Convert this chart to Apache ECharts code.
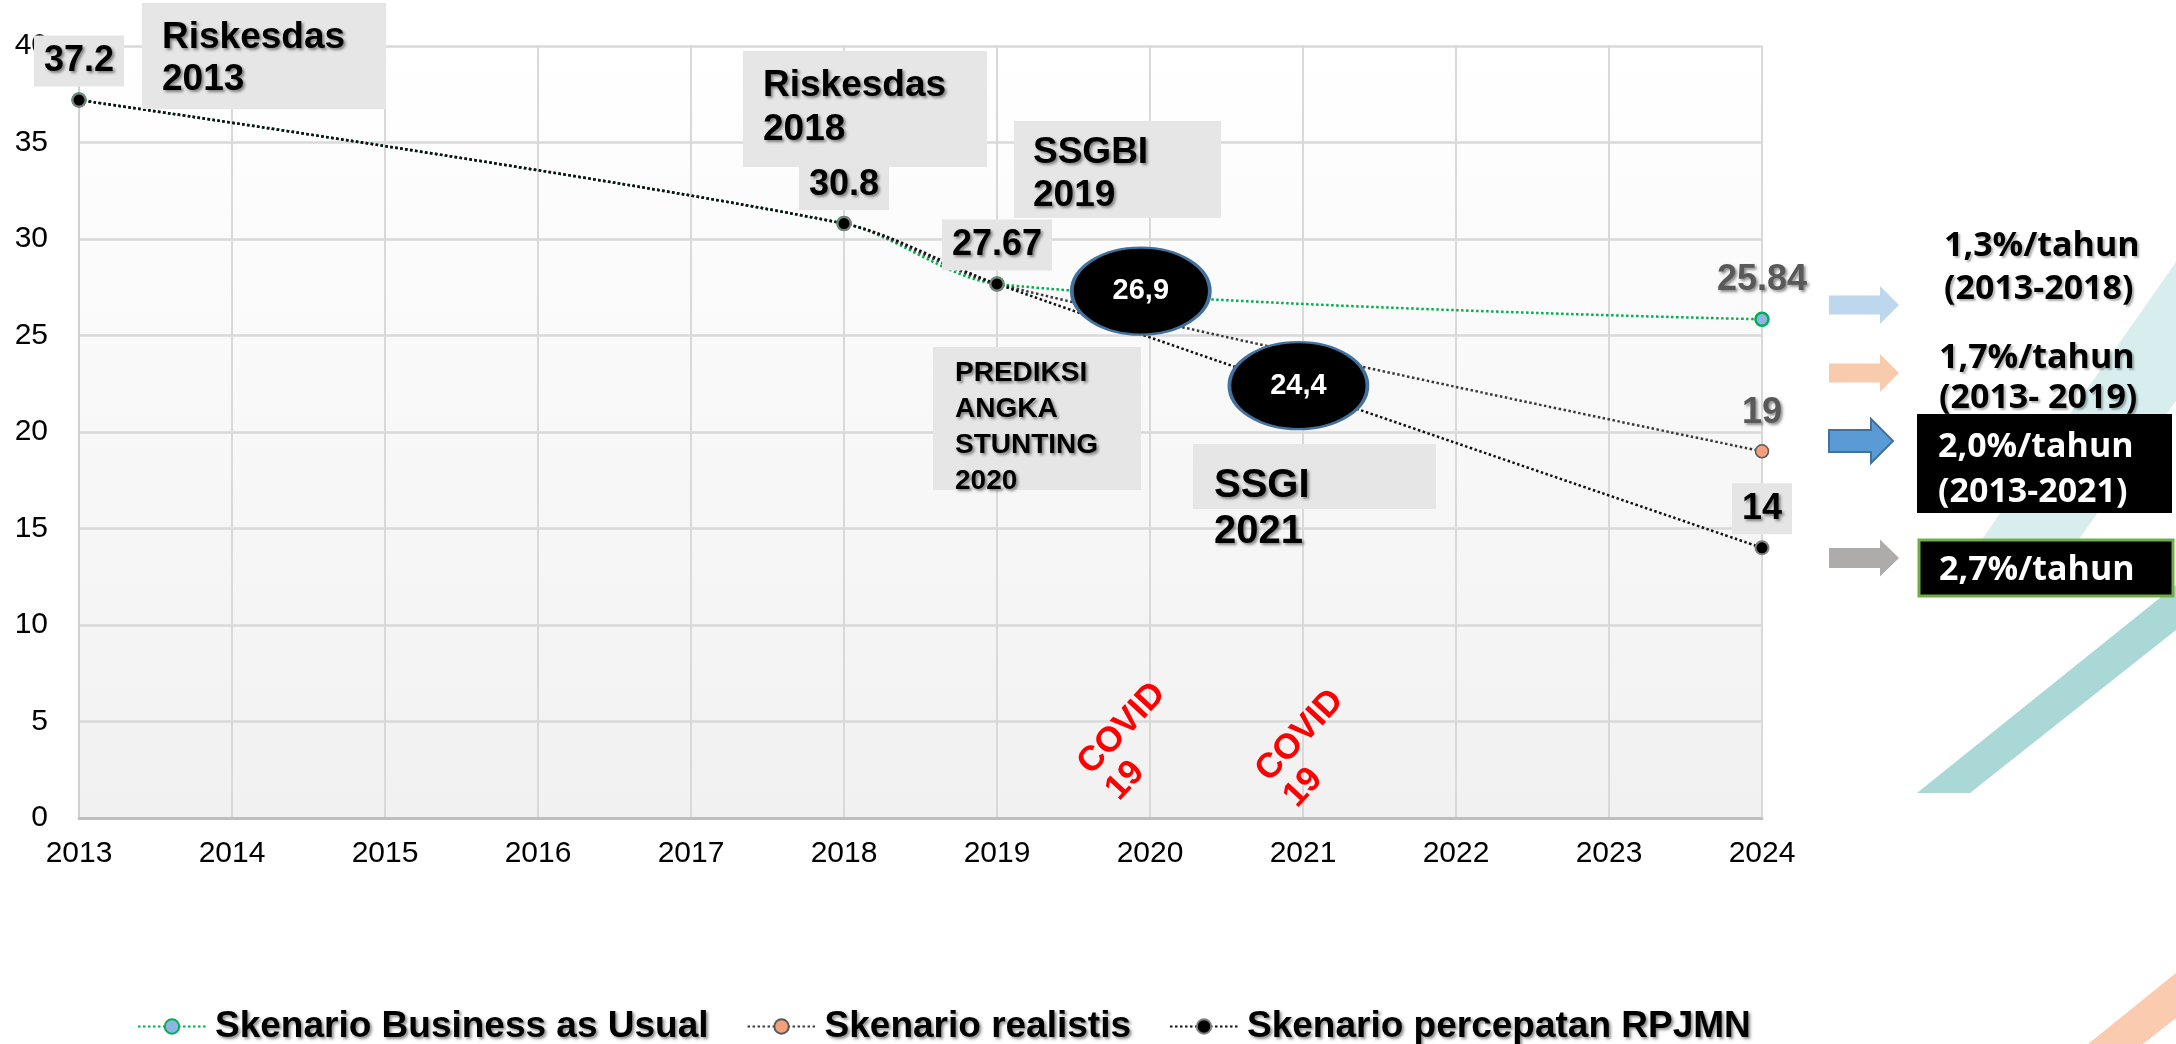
<!DOCTYPE html>
<html>
<head>
<meta charset="utf-8">
<title>Prediksi angka stunting</title>
<script src="https://cdn.jsdelivr.net/npm/echarts@6/dist/echarts.min.js"></script>
<style>
  html, body { margin: 0; padding: 0; background: #fff; }
  #chart { width: 2176px; height: 1044px; }
</style>
</head>
<body>
<div id="chart"></div>
<script>
const years = [2013, 2018, 2019, 2024]
const bauValues = [37.2, 30.8, 27.67, 25.84]
const realistisValues = [37.2, 30.8, 27.67, 19]
const percepatanValues = [37.2, 30.8, 27.67, 14]
const seriesNames = ['Skenario Business as Usual', 'Skenario realistis', 'Skenario percepatan RPJMN']

// survey callouts (black ellipses), placed where they sit on the slide
const calloutYears = [2019.94, 2020.97]
const calloutLevels = [27.3, 22.4]
const calloutTexts = ['26,9', '24,4']

const yearMin = 2013
const yearMax = 2024
const valueMax = 40
const valueStep = 5

const ARIAL = '"Liberation Sans", Arial, sans-serif'
const NOTE_FONT = '"Open Sans", "Noto Sans", sans-serif'

const shadow = {
  textShadowColor: 'rgba(0,0,0,0.45)',
  textShadowBlur: 3,
  textShadowOffsetX: 2,
  textShadowOffsetY: 2
}

const boxLabel = {
  show: true,
  position: 'top',
  distance: 6,
  backgroundColor: '#e5e5e5',
  color: '#000',
  fontFamily: ARIAL,
  fontSize: 36,
  fontWeight: 'bold',
  lineHeight: 36,
  padding: [8, 10, 7, 10],
  ...shadow
}
const greyLabel = { ...boxLabel, backgroundColor: 'transparent', color: '#595959' }

function points(values, labels) {
  return years.map((year, i) => labels[i] ? { value: [year, values[i]], label: labels[i] } : [year, values[i]])
}

function lineSeries(name, values, labels, lineColor, fill, border, borderWidth) {
  return {
    name,
    type: 'line',
    data: points(values, labels),
    smooth: 0.3,
    symbol: 'circle',
    symbolSize: 13,
    showAllSymbol: true,
    lineStyle: { color: lineColor, width: 2.5, type: [2.5, 2.5] },
    itemStyle: { color: fill, borderColor: border, borderWidth },
    label: { show: false }
  }
}

function boxedText(x, y, w, h, text, tx, ty, size, lh) {
  return [
    { type: 'rect', shape: { x, y, width: w, height: h }, style: { fill: '#e6e6e6' }, z: 5, silent: true },
    {
      type: 'text', x: tx, y: ty, z: 6, silent: true,
      style: { text, font: `bold ${size}px ${ARIAL}`, fill: '#000', lineHeight: lh, textAlign: 'left', textVerticalAlign: 'top', ...shadow }
    }
  ]
}

function covid(x, y) {
  return {
    type: 'text', x, y, rotation: 47 * Math.PI / 180, z: 6, silent: true,
    style: { text: 'COVID\n19', font: `bold 35px ${ARIAL}`, fill: '#ff0000', lineHeight: 38, textAlign: 'left', textVerticalAlign: 'middle' }
  }
}

function arrow(x0, neck, tip, cy, body, head, fill, stroke) {
  return {
    type: 'polygon', z: 5, silent: true,
    shape: { points: [[x0, cy - body], [neck, cy - body], [neck, cy - head], [tip, cy], [neck, cy + head], [neck, cy + body], [x0, cy + body]] },
    style: { fill, stroke: stroke || null, lineWidth: stroke ? 2 : 0 }
  }
}

function note(x, y, text, lh, color, align) {
  return {
    type: 'text', x, y, z: 8, silent: true,
    style: {
      text, font: `bold 34px ${NOTE_FONT}`, fill: color, lineHeight: lh, textAlign: 'left', textVerticalAlign: align || 'top',
      textShadowColor: color === '#000' ? 'rgba(0,0,0,0.3)' : 'transparent', textShadowBlur: 2, textShadowOffsetX: 2, textShadowOffsetY: 2
    }
  }
}

const chart = echarts.init(document.getElementById('chart'))

chart.setOption({
  animation: false,
  backgroundColor: '#fff',
  grid: {
    left: 79, right: 414, top: 46, bottom: 226,
    show: true,
    borderWidth: 0,
    backgroundColor: new echarts.graphic.LinearGradient(0, 0, 0, 1, [
      { offset: 0, color: '#ffffff' },
      { offset: 1, color: '#f1f1f1' }
    ])
  },
  legend: {
    data: seriesNames,
    left: 132,
    top: 1003,
    itemWidth: 68,
    itemHeight: 18,
    itemGap: 38,
    textStyle: { color: '#000', fontFamily: ARIAL, fontSize: 37, fontWeight: 'bold', padding: [0, 0, 0, 4], ...shadow }
  },
  xAxis: {
    type: 'value',
    min: yearMin,
    max: yearMax,
    interval: 1,
    axisLine: { show: true, lineStyle: { color: '#bfbfbf', width: 3 } },
    axisTick: { show: false },
    axisLabel: { formatter: (v) => String(v), color: '#000', fontFamily: ARIAL, fontSize: 30, margin: 21 },
    splitLine: { show: true, lineStyle: { color: '#d9d9d9', width: 2 } }
  },
  yAxis: {
    type: 'value',
    min: 0,
    max: valueMax,
    interval: valueStep,
    axisLine: { show: true, lineStyle: { color: '#d0d0d0', width: 2 } },
    axisTick: { show: false },
    axisLabel: { color: '#000', fontFamily: ARIAL, fontSize: 30, margin: 31 },
    splitLine: { lineStyle: { color: '#d9d9d9', width: 2.5 } }
  },
  series: [
    lineSeries(seriesNames[0], bauValues, [null, null, null, greyLabel], '#00b050', '#8eb4e3', '#00b050', 2.5),
    lineSeries(seriesNames[1], realistisValues, [null, null, null, greyLabel], '#3a3a3a', '#f4a07c', '#595959', 1.5),
    lineSeries(seriesNames[2], percepatanValues, [boxLabel, boxLabel, boxLabel, boxLabel], '#111', '#000', '#808080', 2),
    {
      type: 'scatter',
      silent: true,
      z: 4,
      data: calloutYears.map((year, i) => ({ value: [year, calloutLevels[i]], name: calloutTexts[i] })),
      symbol: 'circle',
      symbolSize: [138, 87],
      itemStyle: { color: '#000', opacity: 1, borderColor: '#41719c', borderWidth: 3 },
      label: { show: true, position: 'inside', formatter: (p) => p.name, color: '#fff', fontFamily: ARIAL, fontSize: 29, fontWeight: 'bold' }
    }
  ],
  graphic: [
    // slide decoration
    { type: 'polygon', z: 1, silent: true, shape: { points: [[1978, 545], [2075, 545], [2176, 401], [2176, 262]] }, style: { fill: '#d8eeee' } },
    { type: 'polygon', z: 1, silent: true, shape: { points: [[1917, 793], [1970, 793], [2176, 630], [2176, 585]] }, style: { fill: '#a9d8d6' } },
    { type: 'polygon', z: 1, silent: true, shape: { points: [[2088, 1044], [2143, 1044], [2176, 1018], [2176, 973]] }, style: { fill: '#fbcbb0' } },

    ...boxedText(142, 3, 244, 106, 'Riskesdas\n2013', 162, 17, 37, 42),
    ...boxedText(743, 51, 244, 116, 'Riskesdas\n2018', 763, 64, 37, 44),
    ...boxedText(1014, 121, 207, 97, 'SSGBI\n2019', 1033, 131, 37, 43),
    ...boxedText(933, 347, 208, 143, 'PREDIKSI\nANGKA\nSTUNTING\n2020', 955, 355, 28, 36),
    ...boxedText(1193, 444, 243, 65, 'SSGI\n2021', 1214, 463, 40, 46),

    covid(1098, 782),
    covid(1276, 789),

    arrow(1829, 1880, 1899, 305, 9.5, 19, '#bdd7ee'),
    arrow(1829, 1880, 1899, 373, 9.5, 19, '#f8cbad'),
    arrow(1829, 1871, 1893, 441, 11, 22, '#5b9bd5', '#41719c'),
    arrow(1829, 1880, 1899, 558, 10, 18.5, '#aeabab'),

    note(1944, 225, '1,3%/tahun\n(2013-2018)', 43, '#000'),
    note(1939, 338, '1,7%/tahun\n(2013- 2019)', 40, '#000'),
    { type: 'rect', z: 9, silent: true, shape: { x: 1917, y: 414, width: 255, height: 99 }, style: { fill: '#000' } },
    { ...note(1938, 425, '2,0%/tahun\n(2013-2021)', 45, '#fff'), z: 10 },
    { type: 'rect', z: 9, silent: true, shape: { x: 1919, y: 540, width: 254, height: 56 }, style: { fill: '#000', stroke: '#70ad47', lineWidth: 3 } },
    { ...note(1939, 570, '2,7%/tahun', 40, '#fff', 'middle'), z: 10 }
  ]
})
</script>
</body>
</html>
